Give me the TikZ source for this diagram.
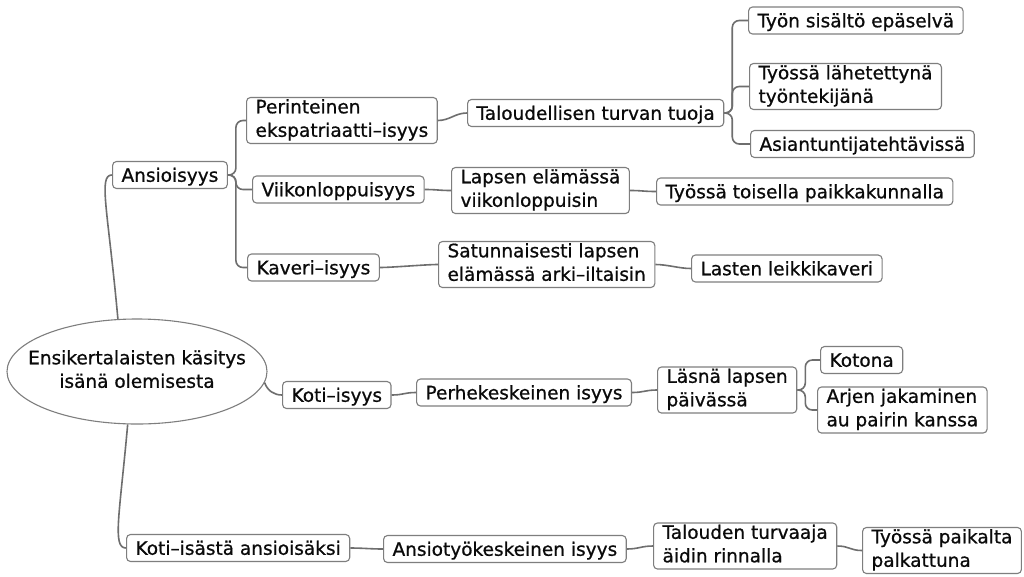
\documentclass[tikz,border=0pt]{standalone}
\usepackage{fontspec}
\setmainfont{DejaVu Sans}[BoldFont=DejaVu Sans, BoldFeatures={FakeBold=0.8}]
\usetikzlibrary{shapes.geometric}
\definecolor{linegray}{HTML}{6E6E6E}
\definecolor{boxgray}{HTML}{7E7E7E}
\definecolor{ink}{HTML}{0A0A0A}
% fixed line strut so every box gets the same height per line
\newcommand\lnstrut{\vrule height 18.5pt depth 5pt width 0pt}
\begin{document}
\begin{tikzpicture}[x=1pt,y=-1pt,
  every node/.style={font=\fontsize{18.5}{23.5}\selectfont\bfseries, text=ink},
  topic/.style={draw=boxgray, line width=1.1pt, rounded corners=4pt, fill=white,
    align=left, inner xsep=9pt, inner ysep=1.75pt, anchor=west,
    execute at begin node=\lnstrut, execute at end node=\lnstrut},
  conn/.style={draw=linegray, line width=1.6pt},
  fan/.style={conn, rounded corners=7pt, to path={-- ++(8,0) |- (\tikztotarget)}},
  link/.style={conn, to path={.. controls +(12,0) and +(-12,0) .. (\tikztotarget)}},
]
\useasboundingbox (0,0) rectangle (1024,576);
\fill[white] (0,0) rectangle (1024,576);

% central topic
\node[ellipse, draw=boxgray, line width=1.1pt, fill=white, inner sep=0pt,
      minimum width=260pt, minimum height=105pt] (root) at (137,371.5) {};
\node[align=center, inner sep=0pt, execute at begin node=\lnstrut,
      execute at end node=\lnstrut] (roottext) at (root.center)
      {Ensikertalaisten käsitys\\isänä olemisesta};

% first branch
\node[topic] (ans) at (112,175) {Ansioisyys};
\node[topic] (per) at (246,120.5) {Perinteinen\\ekspatriaatti–isyys};
\node[topic] (vii) at (252,189.5) {Viikonloppuisyys};
\node[topic] (kav) at (247,267.5) {Kaveri–isyys};
\node[topic] (tal) at (467,113) {Taloudellisen turvan tuoja};
\node[topic] (tyon) at (748,20.5) {Työn sisältö epäselvä};
\node[topic] (lah) at (749,86.5) {Työssä lähetettynä\\työntekijänä};
\node[topic] (asi) at (750,144) {Asiantuntijatehtävissä};
\node[topic] (lap) at (451,190.5) {Lapsen elämässä\\viikonloppuisin};
\node[topic] (toi) at (656,191.5) {Työssä toisella paikkakunnalla};
\node[topic] (sat) at (438,264.5) {Satunnaisesti lapsen\\elämässä arki–iltaisin};
\node[topic] (lei) at (691,268.5) {Lasten leikkikaveri};

% second branch
\node[topic] (koti) at (282,395) {Koti–isyys};
\node[topic] (perhe) at (416,392.5) {Perhekeskeinen isyys};
\node[topic] (lasna) at (657,390) {Läsnä lapsen\\päivässä};
\node[topic] (kotona) at (820,360) {Kotona};
\node[topic] (arjen) at (817,410) {Arjen jakaminen\\au pairin kanssa};

% third branch
\node[topic] (kia) at (126,548) {Koti–isästä ansioisäksi};
\node[topic] (ansio) at (383,549) {Ansiotyökeskeinen isyys};
\node[topic] (talo) at (653,546) {Talouden turvaaja\\äidin rinnalla};
\node[topic] (pai) at (862,550.5) {Työssä paikalta\\palkattuna};

% connectors from the central topic
\draw[conn] (root.110) .. controls +(-10,-110) and +(-14,0) .. (ans.west);
\draw[conn] (root.-5) to[out=-70, in=180] (koti.west);
\draw[conn] (root.260) .. controls +(-8,90) and +(-14,0) .. (kia.west);

% connectors between topics
\draw[fan] (ans.east) to (per.west);
\draw[fan] (ans.east) to (vii.west);
\draw[fan] (ans.east) to (kav.west);
\draw[link] (per.east) to (tal.west);
\draw[fan] (tal.east) to (tyon.west);
\draw[fan] (tal.east) to (lah.west);
\draw[fan] (tal.east) to (asi.west);
\draw[link] (vii.east) to (lap.west);
\draw[link] (lap.east) to (toi.west);
\draw[link] (kav.east) to (sat.west);
\draw[link] (sat.east) to (lei.west);
\draw[link] (koti.east) to (perhe.west);
\draw[link] (perhe.east) to (lasna.west);
\draw[fan] (lasna.east) to (kotona.west);
\draw[fan] (lasna.east) to (arjen.west);
\draw[link] (kia.east) to (ansio.west);
\draw[link] (ansio.east) to (talo.west);
\draw[link] (talo.east) to (pai.west);
\end{tikzpicture}
\end{document}
